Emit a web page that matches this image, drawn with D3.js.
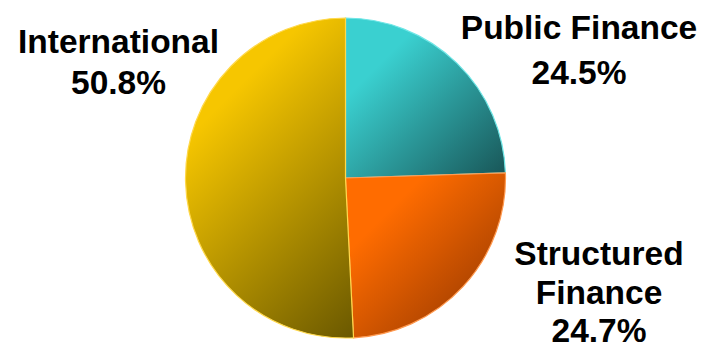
<!DOCTYPE html>
<html><head><meta charset="utf-8">
<script src="https://cdn.jsdelivr.net/npm/d3@7"></script>
<style>html,body{margin:0;padding:0;background:#fff;}svg{display:block;}</style>
</head><body>
<svg id="chart" width="707" height="347"></svg>
<script>
const categories = ["Public Finance", "Structured Finance", "International"];
const values = [24.5, 24.7, 50.8];
const labelLines = [["Public Finance", "24.5%"], ["Structured", "Finance", "24.7%"], ["International", "50.8%"]];
const colorsLight = ["#3ad0d0", "#ff6c00", "#f6c600"];
const colorsDark = ["#185456", "#8a3200", "#6a5800"];
const edgeColors = ["#6fe6e6", "#ff9a50", "#ffd84a"];

const svg = d3.select("#chart");
const cx = 345.5, cy = 178, r = 160;

const defs = svg.append("defs");
const pie = d3.pie().sort(null).value(d => d);
const arc = d3.arc().innerRadius(0).outerRadius(r);
const arcs = pie(values);

const g = svg.append("g").attr("transform", `translate(${cx},${cy})`);
const paths = g.selectAll("path").data(arcs).enter().append("path")
  .attr("d", arc)
  .attr("fill", (d, i) => `url(#grad${i})`)
  .attr("stroke", (d, i) => edgeColors[i])
  .attr("stroke-width", 1.2);

paths.each(function(d, i) {
  const bb = this.getBBox();
  const t = (bb.width + bb.height) / 2;
  const gr = defs.append("linearGradient").attr("id", "grad" + i)
    .attr("gradientUnits", "userSpaceOnUse")
    .attr("x1", bb.x).attr("y1", bb.y)
    .attr("x2", bb.x + t).attr("y2", bb.y + t);
  gr.append("stop").attr("offset", "0%").attr("stop-color", colorsLight[i]);
  gr.append("stop").attr("offset", "25%").attr("stop-color", colorsLight[i]);
  gr.append("stop").attr("offset", "100%").attr("stop-color", colorsDark[i]);
});

const labelPos = [
  {x: 579, ys: [39, 84]},
  {x: 599, ys: [265, 304, 342]},
  {x: 118.5, ys: [53, 94]}
];
labelLines.forEach((lines, i) => {
  lines.forEach((t, j) => {
    svg.append("text")
      .attr("x", labelPos[i].x).attr("y", labelPos[i].ys[j])
      .attr("text-anchor", "middle")
      .attr("font-family", "Liberation Sans, Arial, sans-serif")
      .attr("font-weight", "bold")
      .attr("font-size", 33.5)
      .attr("fill", "#000")
      .text(t);
  });
});
</script>
</body></html>
